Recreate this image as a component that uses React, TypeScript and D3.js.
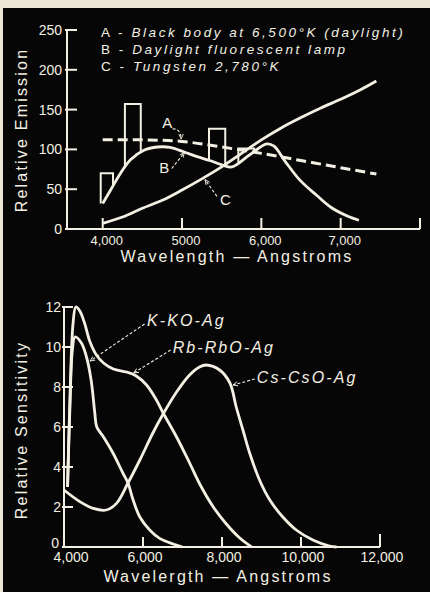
import React, { useEffect } from "react";
import * as d3 from "d3";

// ---- upper panel: relative emission of light sources ----
const emTicksX = [4000, 5000, 6000, 7000, 8000];
const emTickLabelsX = ["4,000", "5000", "6,000", "7,000", ""];
const emTicksY = [0, 50, 100, 150, 200, 250];

// A - black body 6500K (dashed)
const blackbodyWl = [4000, 4500, 5000, 5500, 6000, 6500, 7000, 7450];
const blackbodyVal = [112, 112, 110, 103, 95, 86, 77, 69];

// B - daylight fluorescent lamp
const fluorWl = [4000, 4100, 4225, 4350, 4520, 4690, 4850, 5020, 5190, 5350, 5520, 5630, 5850, 6070, 6160, 6300, 6480, 6700, 6880, 7090, 7230];
const fluorVal = [32, 49, 70, 87, 99, 103, 102.5, 97, 91, 86, 80, 78, 93, 107, 104, 85, 62, 42, 27, 16, 11];

// C - tungsten 2780K
const tungstenWl = [4000, 4250, 4500, 4750, 5000, 5250, 5500, 5750, 6000, 6250, 6500, 6750, 7000, 7250, 7450];
const tungstenVal = [7, 15, 26, 36, 49, 63, 78, 95, 112, 127, 140, 152, 163, 175, 186];

// mercury lines of the fluorescent lamp
const hgStart = [3975, 4280, 5340, 5710];
const hgEnd = [4130, 4480, 5545, 5910];
const hgTop = [70, 157, 126, 101];

const legendKeys = ["A", "B", "C"];
const legendText = ["Black body at 6,500°K (daylight)", "Daylight fluorescent lamp", "Tungsten 2,780°K"];

// ---- lower panel: photocathode sensitivity ----
const sensTicksX = [4000, 6000, 8000, 10000, 12000];
const sensTickLabelsX = ["4,000", "6,000", "8,000", "10,000", "12,000"];
const sensTicksY = [0, 2, 4, 6, 8, 10, 12];

const kWl = [4090, 4150, 4210, 4280, 4440, 4570, 4690, 4780, 4830, 5000, 5240, 5490, 5620, 5750, 5920, 6170, 6420, 6760, 7000];
const kVal = [3.0, 7.0, 9.8, 10.5, 10.2, 9.5, 8.3, 6.7, 6.0, 5.5, 4.7, 3.7, 3.2, 2.35, 1.5, 0.85, 0.43, 0.15, 0];

const rbWl = [4090, 4160, 4230, 4300, 4400, 4520, 4650, 4820, 5000, 5250, 5580, 5830, 6090, 6340, 6510, 6850, 7180, 7450, 7780, 8110, 8450, 8750];
const rbVal = [3.0, 8.0, 11.2, 12.0, 11.8, 11.2, 10.3, 9.6, 9.2, 8.9, 8.75, 8.55, 8.1, 7.35, 6.7, 5.5, 4.2, 3.1, 2.0, 1.15, 0.45, 0];

const csWl = [4000, 4400, 4740, 5070, 5330, 5620, 5920, 6250, 6510, 6850, 7180, 7430, 7600, 7940, 8200, 8360, 8530, 8700, 8950, 9210, 9540, 9880, 10300, 10720, 10900];
const csVal = [2.85, 2.27, 1.93, 1.85, 2.18, 3.2, 4.35, 5.7, 6.65, 7.75, 8.6, 9.0, 9.1, 8.85, 8.2, 7.0, 5.85, 4.7, 3.35, 2.35, 1.5, 0.85, 0.35, 0.05, 0];

const cellNames = ["K-KO-Ag", "Rb-RbO-Ag", "Cs-CsO-Ag"];

const FG = "#f3f0e3";
const BG = "#060606";
const FONT = "'Liberation Sans', Arial, sans-serif";

const zip = (a: number[], b: number[]) => a.map((v, i) => [v, b[i]] as [number, number]);

export default function App() {
  useEffect(() => {
    document.body.style.margin = "0";
    document.body.style.background = BG;
  }, []);

  const W = 430;
  const H = 592;

  // upper scales
  const x1 = d3.scaleLinear().domain([3550, 8000]).range([67, 420]);
  const y1 = d3.scaleLinear().domain([0, 250]).range([229, 30]);
  // lower scales
  const x2 = d3.scaleLinear().domain([4000, 12000]).range([64, 380]);
  const y2 = d3.scaleLinear().domain([0, 12]).range([547, 307]);

  const line1 = d3
    .line<[number, number]>()
    .x(d => x1(d[0]))
    .y(d => y1(d[1]))
    .curve(d3.curveCatmullRom.alpha(0.5));
  const line2 = d3
    .line<[number, number]>()
    .x(d => x2(d[0]))
    .y(d => y2(d[1]))
    .curve(d3.curveCatmullRom.alpha(0.5));

  // where the mercury bars sit on curve B
  const fluorAt = d3.scaleLinear().domain(fluorWl).range(fluorVal).clamp(true);

  const tickLbl = { fill: FG, fontFamily: FONT, fontSize: 14 } as const;
  const title = { fill: FG, fontFamily: FONT, fontSize: 16, letterSpacing: 2.2 } as const;
  const note = { fill: FG, fontFamily: FONT, fontSize: 13.5, letterSpacing: 2.55 } as const;
  const cell = { fill: FG, fontFamily: FONT, fontSize: 16, letterSpacing: 2.1, fontStyle: "italic" } as const;

  return (
    <svg width={W} height={H} style={{ display: "block" }}>
      <defs>
        <marker id="arr" viewBox="0 0 10 10" refX="9" refY="5" markerWidth="5" markerHeight="5" orient="auto">
          <path d="M0,1 L9,5 L0,9" fill="none" stroke={FG} strokeWidth="1.6" />
        </marker>
      </defs>
      <rect width={W} height={H} fill={BG} />
      <rect width={W} height={8} fill="#ebe7d8" />
      <rect width={3} height={H} fill="#ebe7d8" />

      {/* ===== upper panel ===== */}
      <g stroke={FG} strokeWidth={2} fill="none">
        <line x1={x1.range()[0]} x2={x1.range()[0]} y1={y1(250)} y2={y1(0)} />
        <line x1={x1.range()[0] - 1} x2={x1.range()[1]} y1={y1(0)} y2={y1(0)} />
        {emTicksY.map(t => (
          <line key={t} x1={x1.range()[0] - 2} x2={x1.range()[0] + 10} y1={y1(t)} y2={y1(t)} />
        ))}
        {emTicksX.map(t => (
          <line key={t} x1={x1(t)} x2={x1(t)} y1={y1(0)} y2={y1(0) - 11} />
        ))}
      </g>
      {emTicksY.map(t => (
        <text key={t} x={62} y={y1(t)} dy="0.36em" textAnchor="end" {...tickLbl}>
          {t}
        </text>
      ))}
      {emTicksX.map((t, i) => (
        <text key={t} x={x1(t) + 4} y={245} textAnchor="middle" {...tickLbl} fontSize={13}>
          {emTickLabelsX[i]}
        </text>
      ))}
      <text x={237} y={262} textAnchor="middle" {...title}>
        Wavelength — Angstroms
      </text>
      <text transform={`translate(27,130) rotate(-90)`} textAnchor="middle" {...title}>
        Relative Emission
      </text>

      {/* mercury lines */}
      {hgStart.map((s, i) => (
        <path
          key={s}
          d={`M${x1(s)},${y1(fluorAt(s))}V${y1(hgTop[i])}H${x1(hgEnd[i])}V${y1(fluorAt(hgEnd[i]))}`}
          fill="none"
          stroke={FG}
          strokeWidth={2}
        />
      ))}
      <path d={line1(zip(blackbodyWl, blackbodyVal)) || ""} fill="none" stroke={FG} strokeWidth={3} strokeDasharray="10,5" />
      <path d={line1(zip(fluorWl, fluorVal)) || ""} fill="none" stroke={FG} strokeWidth={2.8} />
      <path d={line1(zip(tungstenWl, tungstenVal)) || ""} fill="none" stroke={FG} strokeWidth={2.8} />

      {/* curve callouts */}
      <g stroke={FG} strokeWidth={1.1} fill="none" strokeDasharray="3,2">
        <path d={`M${x1(4880)},${y1(126)}Q${x1(4985)},${y1(126)} ${x1(4990)},${y1(113)}`} markerEnd="url(#arr)" />
        <path d={`M${x1(4870)},${y1(76)}L${x1(5030)},${y1(96)}`} markerEnd="url(#arr)" />
        <path d={`M${x1(5440)},${y1(41)}L${x1(5290)},${y1(62)}`} markerEnd="url(#arr)" />
      </g>
      <text x={x1(4750)} y={y1(127)} {...note} fontSize={15}>A</text>
      <text x={x1(4712)} y={y1(70)} {...note} fontSize={15}>B</text>
      <text x={x1(5480)} y={y1(30)} {...note} fontSize={15}>C</text>

      {/* legend */}
      {legendKeys.map((k, i) => (
        <text key={k} x={101} y={37 + i * 17} {...note}>
          {k} - <tspan fontStyle="italic">{legendText[i]}</tspan>
        </text>
      ))}

      {/* ===== lower panel ===== */}
      <g stroke={FG} strokeWidth={2} fill="none">
        <line x1={x2.range()[0]} x2={x2.range()[0]} y1={y2(12)} y2={y2(0)} />
        <line x1={x2.range()[0] - 1} x2={x2.range()[1]} y1={y2(0)} y2={y2(0)} />
        {sensTicksY.map(t => (
          <line key={t} x1={x2.range()[0] - 2} x2={x2.range()[0] + 9} y1={y2(t)} y2={y2(t)} />
        ))}
        {sensTicksX.map(t => (
          <line key={t} x1={x2(t)} x2={x2(t)} y1={y2(0)} y2={y2(0) - (t === 12000 ? 13 : 10)} />
        ))}
      </g>
      {sensTicksY.map(t => (
        <text key={t} x={t === 0 ? 59 : 61} y={y2(t) - (t === 0 ? 4 : 0)} dy="0.36em" textAnchor="end" {...tickLbl}>
          {t}
        </text>
      ))}
      {sensTicksX.map((t, i) => (
        <text key={t} x={x2(t) + (t === 4000 ? 7 : 2)} y={562} textAnchor="middle" {...tickLbl}>
          {sensTickLabelsX[i]}
        </text>
      ))}
      <text x={218} y={582} textAnchor="middle" {...title}>
        Wavelergth — Angstroms
      </text>
      <text transform={`translate(27,430) rotate(-90)`} textAnchor="middle" {...title}>
        Relative Sensitivity
      </text>

      <path d={line2(zip(kWl, kVal)) || ""} fill="none" stroke={FG} strokeWidth={2.8} />
      <path d={line2(zip(rbWl, rbVal)) || ""} fill="none" stroke={FG} strokeWidth={2.8} />
      <path d={line2(zip(csWl, csVal)) || ""} fill="none" stroke={FG} strokeWidth={2.8} />

      <g stroke={FG} strokeWidth={1.1} fill="none" strokeDasharray="3,2">
        <line x1={x2(6040)} y1={y2(11.15)} x2={x2(4660)} y2={y2(9.3)} markerEnd="url(#arr)" />
        <line x1={x2(6700)} y1={y2(9.85)} x2={x2(5765)} y2={y2(8.7)} markerEnd="url(#arr)" />
        <line x1={x2(8830)} y1={y2(8.4)} x2={x2(8280)} y2={y2(8.1)} markerEnd="url(#arr)" />
      </g>
      <text x={x2(6100)} y={y2(11.05)} {...cell}>{cellNames[0]}</text>
      <text x={x2(6750)} y={y2(9.7)} {...cell}>{cellNames[1]}</text>
      <text x={x2(8880)} y={y2(8.2)} {...cell}>{cellNames[2]}</text>
    </svg>
  );
}
